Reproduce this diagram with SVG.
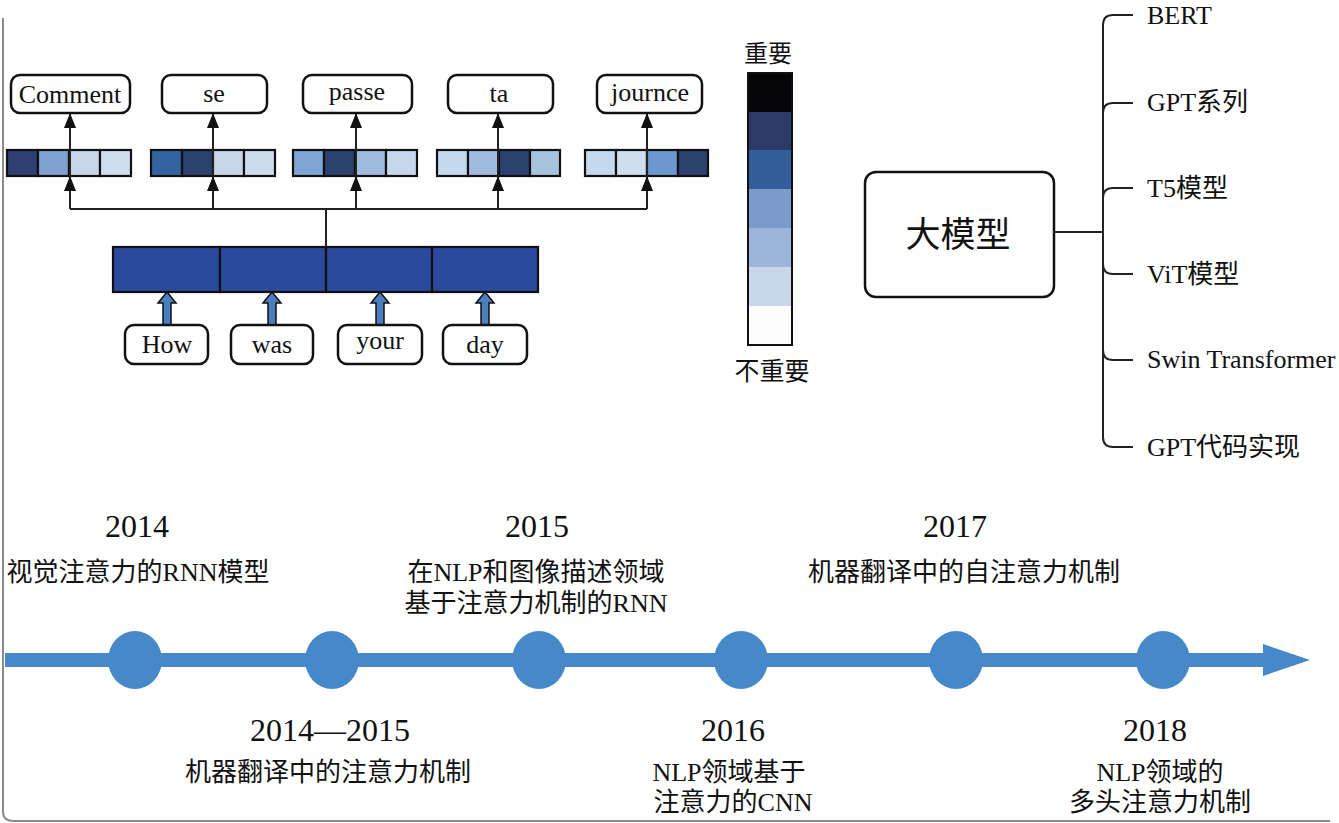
<svg xmlns="http://www.w3.org/2000/svg" width="1339" height="823" viewBox="0 0 1339 823">
<style>
.box{fill:#fff;stroke:#111;stroke-width:2.5}
.cell{stroke:#111;stroke-width:2.2}
.ln{fill:none;stroke:#222;stroke-width:2}
.t{font-family:"Liberation Serif","Noto Sans CJK SC",serif;fill:#111}
.w{font-size:26px;text-anchor:middle}
.yr{font-size:32px;text-anchor:middle}
.cn{font-size:26px;text-anchor:middle}
.br{font-size:26px}
.tl{fill:#4689c9}
.blk{fill:#4a7fc0;stroke:#111;stroke-width:1.5}
</style>
<defs>
<marker id="ah" viewBox="0 0 15 12" refX="15" refY="6" markerWidth="15" markerHeight="12" markerUnits="userSpaceOnUse" orient="auto">
<path d="M0,0 L15,6 L0,12 z" fill="#111"/>
</marker>
</defs>
<rect width="1339" height="823" fill="#fff"/>
<path d="M3,18 V812 Q3,821 14,821 H1330" fill="none" stroke="#8a8a8a" stroke-width="2"/>

<!-- attention bars -->
<g id="bar-comment">
<rect class="cell" x="7" y="150" width="31" height="26" fill="#2e3f72"/>
<rect class="cell" x="38" y="150" width="31" height="26" fill="#7fa2d0"/>
<rect class="cell" x="69" y="150" width="31" height="26" fill="#c9d6ea"/>
<rect class="cell" x="100" y="150" width="31" height="26" fill="#d0ddee"/>
</g>
<g id="bar-se">
<rect class="cell" x="151" y="150" width="31" height="26" fill="#3464a0"/>
<rect class="cell" x="182" y="150" width="31" height="26" fill="#2b426e"/>
<rect class="cell" x="213" y="150" width="31" height="26" fill="#c9d6ea"/>
<rect class="cell" x="244" y="150" width="31" height="26" fill="#cfdcee"/>
</g>
<g id="bar-passe">
<rect class="cell" x="293" y="150" width="31" height="26" fill="#7fa5d4"/>
<rect class="cell" x="324" y="150" width="31" height="26" fill="#2b426e"/>
<rect class="cell" x="355" y="150" width="31" height="26" fill="#a0bde0"/>
<rect class="cell" x="386" y="150" width="31" height="26" fill="#c5d7ec"/>
</g>
<g id="bar-ta">
<rect class="cell" x="437" y="150" width="31" height="26" fill="#c5d9ee"/>
<rect class="cell" x="468" y="150" width="31" height="26" fill="#a0bde0"/>
<rect class="cell" x="499" y="150" width="31" height="26" fill="#2b426e"/>
<rect class="cell" x="530" y="150" width="30" height="26" fill="#a7c2dc"/>
</g>
<g id="bar-journce">
<rect class="cell" x="585" y="150" width="31" height="26" fill="#c5d9ee"/>
<rect class="cell" x="616" y="150" width="31" height="26" fill="#d0ddee"/>
<rect class="cell" x="647" y="150" width="31" height="26" fill="#6b98cf"/>
<rect class="cell" x="678" y="150" width="30" height="26" fill="#2b426e"/>
</g>

<!-- encoder -->
<g id="encoder">
<rect class="cell" x="113" y="247" width="107" height="45" fill="#2b4a9e"/>
<rect class="cell" x="220" y="247" width="106" height="45" fill="#2b4a9e"/>
<rect class="cell" x="326" y="247" width="106" height="45" fill="#2b4a9e"/>
<rect class="cell" x="432" y="247" width="106" height="45" fill="#2b4a9e"/>
</g>

<!-- connectors -->
<g id="connectors">
<path class="ln" d="M70,209 H647 M326,209 V247"/>
<line class="ln" x1="70" y1="209" x2="70" y2="176" marker-end="url(#ah)"/>
<line class="ln" x1="213" y1="209" x2="213" y2="176" marker-end="url(#ah)"/>
<line class="ln" x1="356" y1="209" x2="356" y2="176" marker-end="url(#ah)"/>
<line class="ln" x1="498" y1="209" x2="498" y2="176" marker-end="url(#ah)"/>
<line class="ln" x1="647" y1="209" x2="647" y2="176" marker-end="url(#ah)"/>
<line class="ln" x1="70" y1="176" x2="70" y2="113" marker-end="url(#ah)"/>
<line class="ln" x1="213" y1="176" x2="213" y2="113" marker-end="url(#ah)"/>
<line class="ln" x1="356" y1="176" x2="356" y2="113" marker-end="url(#ah)"/>
<line class="ln" x1="498" y1="176" x2="498" y2="113" marker-end="url(#ah)"/>
<line class="ln" x1="647" y1="176" x2="647" y2="113" marker-end="url(#ah)"/>
<polygon class="blk" points="163,325 163,303 158,303 167,292 176,303 171,303 171,325"/>
<polygon class="blk" points="268,325 268,303 263,303 272,292 281,303 276,303 276,325"/>
<polygon class="blk" points="376,325 376,303 371,303 380,292 389,303 384,303 384,325"/>
<polygon class="blk" points="481,325 481,303 476,303 485,292 494,303 489,303 489,325"/>
<path class="ln" d="M1054,232 H1103 M1103,25 V437"/>
<path class="ln" d="M1103,25 Q1103,15 1113,15 H1133"/>
<path class="ln" d="M1103,113 Q1103,103 1113,103 H1133"/>
<path class="ln" d="M1103,198 Q1103,188 1113,188 H1133"/>
<path class="ln" d="M1103,264 Q1103,274 1113,274 H1133"/>
<path class="ln" d="M1103,350 Q1103,360 1113,360 H1133"/>
<path class="ln" d="M1103,437 Q1103,447 1113,447 H1133"/>
</g>

<!-- output words -->
<g id="out-comment"><rect class="box" x="11" y="75" width="119" height="38" rx="9"/><text class="t w" x="70" y="103">Comment</text></g>
<g id="out-se"><rect class="box" x="162" y="75" width="105" height="38" rx="9"/><text class="t w" x="214" y="102">se</text></g>
<g id="out-passe"><rect class="box" x="303" y="75" width="109" height="38" rx="9"/><text class="t w" x="357" y="100">passe</text></g>
<g id="out-ta"><rect class="box" x="448" y="75" width="105" height="38" rx="9"/><text class="t w" x="499" y="102">ta</text></g>
<g id="out-journce"><rect class="box" x="597" y="75" width="105" height="38" rx="9"/><text class="t w" x="650" y="101">journce</text></g>

<!-- input words -->
<g id="in-how"><rect class="box" x="125" y="325" width="83" height="39" rx="9"/><text class="t w" x="167" y="353">How</text></g>
<g id="in-was"><rect class="box" x="231" y="325" width="82" height="39" rx="9"/><text class="t w" x="272" y="353">was</text></g>
<g id="in-your"><rect class="box" x="338" y="325" width="84" height="39" rx="9"/><text class="t w" x="380" y="349">your</text></g>
<g id="in-day"><rect class="box" x="443" y="325" width="84" height="39" rx="9"/><text class="t w" x="485" y="353">day</text></g>

<!-- colour scale -->
<g id="scale">
<text class="t" x="768" y="62" font-size="24" text-anchor="middle">重要</text>
<rect x="748" y="73" width="44" height="39" fill="#050508"/>
<rect x="748" y="112" width="44" height="39" fill="#2b3a66"/>
<rect x="748" y="150" width="44" height="39" fill="#345e99"/>
<rect x="748" y="189" width="44" height="39" fill="#7b9ccb"/>
<rect x="748" y="228" width="44" height="39" fill="#9db5d9"/>
<rect x="748" y="267" width="44" height="39" fill="#c9d6ea"/>
<rect x="748" y="306" width="44" height="39" fill="#fdfdfe"/>
<rect x="748" y="73" width="44" height="272" fill="none" stroke="#111" stroke-width="2"/>
<text class="t" x="772" y="380" font-size="25" text-anchor="middle">不重要</text>
</g>

<!-- big model -->
<g id="big-model"><rect class="box" x="865" y="172" width="189" height="125" rx="11"/><text class="t" x="958" y="247" font-size="35" text-anchor="middle">大模型</text></g>
<g id="m-bert"><text class="t br" x="1147" y="24">BERT</text></g>
<g id="m-gpt"><text class="t br" x="1147" y="111">GPT系列</text></g>
<g id="m-t5"><text class="t br" x="1147" y="197">T5模型</text></g>
<g id="m-vit"><text class="t br" x="1147" y="283">ViT模型</text></g>
<g id="m-swin"><text class="t br" x="1147" y="368">Swin Transformer</text></g>
<g id="m-gptcode"><text class="t br" x="1147" y="456">GPT代码实现</text></g>

<!-- timeline -->
<g id="timeline">
<rect class="tl" x="5" y="653" width="1262" height="14"/>
<polygon class="tl" points="1263,644 1310,660 1263,676"/>
<ellipse class="tl" cx="135" cy="660" rx="27" ry="29"/>
<ellipse class="tl" cx="332" cy="660" rx="27" ry="29"/>
<ellipse class="tl" cx="539" cy="660" rx="27" ry="29"/>
<ellipse class="tl" cx="741" cy="660" rx="27" ry="29"/>
<ellipse class="tl" cx="956" cy="660" rx="27" ry="29"/>
<ellipse class="tl" cx="1163" cy="660" rx="27" ry="29"/>
</g>
<g id="ev-2014"><text class="t yr" x="137" y="537">2014</text><text class="t cn" x="138" y="581">视觉注意力的RNN模型</text></g>
<g id="ev-2015"><text class="t yr" x="537" y="537">2015</text><text class="t cn" x="536" y="581">在NLP和图像描述领域</text><text class="t cn" x="536" y="612">基于注意力机制的RNN</text></g>
<g id="ev-2017"><text class="t yr" x="955" y="537">2017</text><text class="t cn" x="964" y="581">机器翻译中的自注意力机制</text></g>
<g id="ev-2014-2015"><text class="t yr" x="330" y="741">2014—2015</text><text class="t cn" x="328" y="781">机器翻译中的注意力机制</text></g>
<g id="ev-2016"><text class="t yr" x="733" y="741">2016</text><text class="t cn" x="729" y="781">NLP领域基于</text><text class="t cn" x="733" y="811">注意力的CNN</text></g>
<g id="ev-2018"><text class="t yr" x="1155" y="741">2018</text><text class="t cn" x="1160" y="781">NLP领域的</text><text class="t cn" x="1160" y="811">多头注意力机制</text></g>
</svg>
